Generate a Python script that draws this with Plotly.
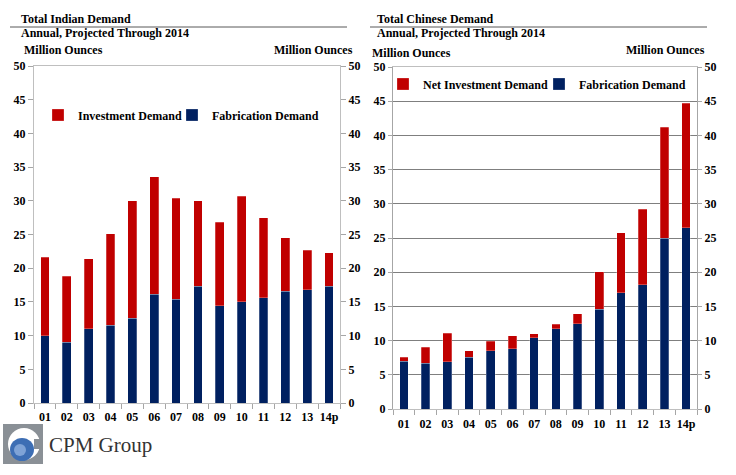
import plotly.graph_objects as go

years = ["01", "02", "03", "04", "05", "06", "07", "08", "09", "10", "11", "12", "13", "14p"]

# Total Indian Demand (million ounces)
india_total = [21.6, 18.8, 21.4, 25.1, 30.0, 33.6, 30.4, 30.0, 26.8, 30.7, 27.5, 24.5, 22.7, 22.3]
india_fabrication = [10.0, 9.0, 11.0, 11.5, 12.6, 16.1, 15.4, 17.3, 14.4, 15.0, 15.6, 16.6, 16.8, 17.3]
india_investment = [round(t - f, 2) for t, f in zip(india_total, india_fabrication)]

# Total Chinese Demand (million ounces)
china_total = [7.6, 9.0, 11.1, 8.5, 9.9, 10.7, 11.0, 12.4, 13.9, 20.1, 25.8, 29.2, 41.2, 44.7]
china_fabrication = [7.0, 6.7, 6.9, 7.6, 8.5, 8.8, 10.4, 11.7, 12.5, 14.6, 17.0, 18.2, 25.0, 26.5]
china_investment = [round(t - f, 2) for t, f in zip(china_total, china_fabrication)]

RED = "#C00000"
NAVY = "#002060"
FONT = "Liberation Serif, Times New Roman, serif"
W, H = 736, 475

def px_x(x):
    return x / W

def px_y(y):
    return (H - y) / H

fig = go.Figure()

bar_line = dict(color="rgba(255,255,255,0.5)", width=0.5)

fig.add_trace(go.Bar(x=years, y=india_fabrication, name="Fabrication Demand",
                     marker=dict(color=NAVY, line=bar_line), width=0.4,
                     xaxis="x", yaxis="y", legend="legend3"))
fig.add_trace(go.Bar(x=years, y=india_investment, name="Investment Demand",
                     marker=dict(color=RED, line=bar_line), width=0.4,
                     xaxis="x", yaxis="y", legend="legend"))
fig.add_trace(go.Bar(x=years, y=china_fabrication, name="Fabrication Demand",
                     marker=dict(color=NAVY, line=bar_line), width=0.4,
                     xaxis="x2", yaxis="y2", legend="legend4"))
fig.add_trace(go.Bar(x=years, y=china_investment, name="Net Investment Demand",
                     marker=dict(color=RED, line=bar_line), width=0.4,
                     xaxis="x2", yaxis="y2", legend="legend2"))
# empty traces so the right-hand value axes get drawn
fig.add_trace(go.Scatter(x=[], y=[], xaxis="x", yaxis="y3", showlegend=False, hoverinfo="skip"))
fig.add_trace(go.Scatter(x=[], y=[], xaxis="x2", yaxis="y4", showlegend=False, hoverinfo="skip"))

tickfont = dict(family=FONT, size=12, color="#000000", weight="bold")
legfont = dict(family=FONT, size=12, color="#000000", weight="bold")

left_dom_x = [px_x(34), px_x(340)]
left_dom_y = [px_y(403), px_y(66)]
right_dom_x = [px_x(393), px_x(697)]
right_dom_y = [px_y(409), px_y(67)]

common_x = dict(type="category", tickson="boundaries", ticks="outside", ticklen=5,
                tickcolor="#A6A6A6", showline=True, linecolor="#BFBFBF", linewidth=1,
                tickfont=tickfont, showgrid=False, fixedrange=True, tickangle=0,
                range=[-0.5, 13.5])

def leg(xpx, ypx):
    return dict(orientation="h", x=px_x(xpx), y=px_y(ypx), xanchor="left", yanchor="middle",
                bgcolor="rgba(0,0,0,0)", itemwidth=30, font=legfont)

fig.update_layout(
    width=W, height=H,
    margin=dict(l=0, r=0, t=0, b=0, autoexpand=False),
    paper_bgcolor="white", plot_bgcolor="white",
    barmode="stack",
    bargap=0.6,
    font=dict(family=FONT, size=12, color="#000000"),
    xaxis=dict(domain=left_dom_x, anchor="y", mirror=True, ticklabelstandoff=3, **common_x),
    yaxis=dict(domain=left_dom_y, anchor="x", range=[0, 50], dtick=5, ticks="outside",
               ticklen=5, tickcolor="#A6A6A6", showline=True, linecolor="#BFBFBF",
               mirror=True, showgrid=False, zeroline=False, tickfont=tickfont,
               fixedrange=True),
    yaxis3=dict(overlaying="y", anchor="x", side="right", range=[0, 50], dtick=5,
                ticks="outside", ticklen=5, tickcolor="#A6A6A6", showline=False,
                showgrid=False, zeroline=False, tickfont=tickfont, fixedrange=True),
    xaxis2=dict(domain=right_dom_x, anchor="y2", mirror=True, ticklabelstandoff=4, **common_x),
    yaxis2=dict(domain=right_dom_y, anchor="x2", range=[0, 50], dtick=5, ticks="outside",
                ticklen=4, tickcolor="#A6A6A6", showline=True, linecolor="#A6A6A6",
                mirror=True, showgrid=True, gridcolor="#7F7F7F", gridwidth=1,
                zeroline=False, tickfont=tickfont, fixedrange=True),
    yaxis4=dict(overlaying="y2", anchor="x2", side="right", range=[0, 50], dtick=5,
                ticks="outside", ticklen=4, tickcolor="#A6A6A6", showline=False,
                showgrid=False, zeroline=False, tickfont=tickfont, fixedrange=True),
    legend=leg(38, 115),
    legend3=leg(172, 115),
    legend2=leg(383, 84),
    legend4=leg(539, 84),
    showlegend=True,
)

def text(x, y, s, anchor="left", size=12, bold=True, color="#000000"):
    fig.add_annotation(x=px_x(x), y=px_y(y), xref="paper", yref="paper", text=s,
                       showarrow=False, xanchor=anchor, yanchor="middle",
                       font=dict(family=FONT, size=size, color=color,
                                 weight="bold" if bold else "normal"))

# Left chart headers
text(19, 19, "Total Indian Demand")
text(19, 33, "Annual, Projected Through 2014")
text(22, 50, "Million Ounces")
text(355, 50, "Million Ounces", anchor="right")
# Right chart headers
text(375, 19, "Total Chinese Demand")
text(375, 33, "Annual, Projected Through 2014")
text(370, 53, "Million Ounces")
text(707, 50, "Million Ounces", anchor="right")

# Header rules
for x0, x1 in [(10, 347), (370, 707)]:
    fig.add_shape(type="line", xref="paper", yref="paper", x0=px_x(x0), x1=px_x(x1),
                  y0=px_y(27), y1=px_y(27), line=dict(color="#595959", width=1))

# CPM Group logo
fig.add_shape(type="rect", xref="paper", yref="paper", x0=px_x(3), x1=px_x(43),
              y0=px_y(464), y1=px_y(424), fillcolor="#8A9096", line=dict(width=0))
fig.add_shape(type="circle", xref="paper", yref="paper", x0=px_x(8), x1=px_x(40),
              y0=px_y(460), y1=px_y(428), fillcolor="white", line=dict(width=0))
fig.add_shape(type="rect", xref="paper", yref="paper", x0=px_x(34), x1=px_x(43),
              y0=px_y(449), y1=px_y(439), fillcolor="#8A9096", line=dict(width=0))
fig.add_shape(type="circle", xref="paper", yref="paper", x0=px_x(10), x1=px_x(34),
              y0=px_y(461), y1=px_y(438), fillcolor="#3D6EB4", line=dict(width=0))
fig.add_shape(type="circle", xref="paper", yref="paper", x0=px_x(14), x1=px_x(26),
              y0=px_y(456), y1=px_y(444), fillcolor="#7FA3D6", line=dict(width=0))
text(47, 445, "CPM Group", size=21, bold=False, color="#333333")

fig.write_html("out.html", config={"displayModeBar": False},
               post_script="document.body.style.margin='0';")
